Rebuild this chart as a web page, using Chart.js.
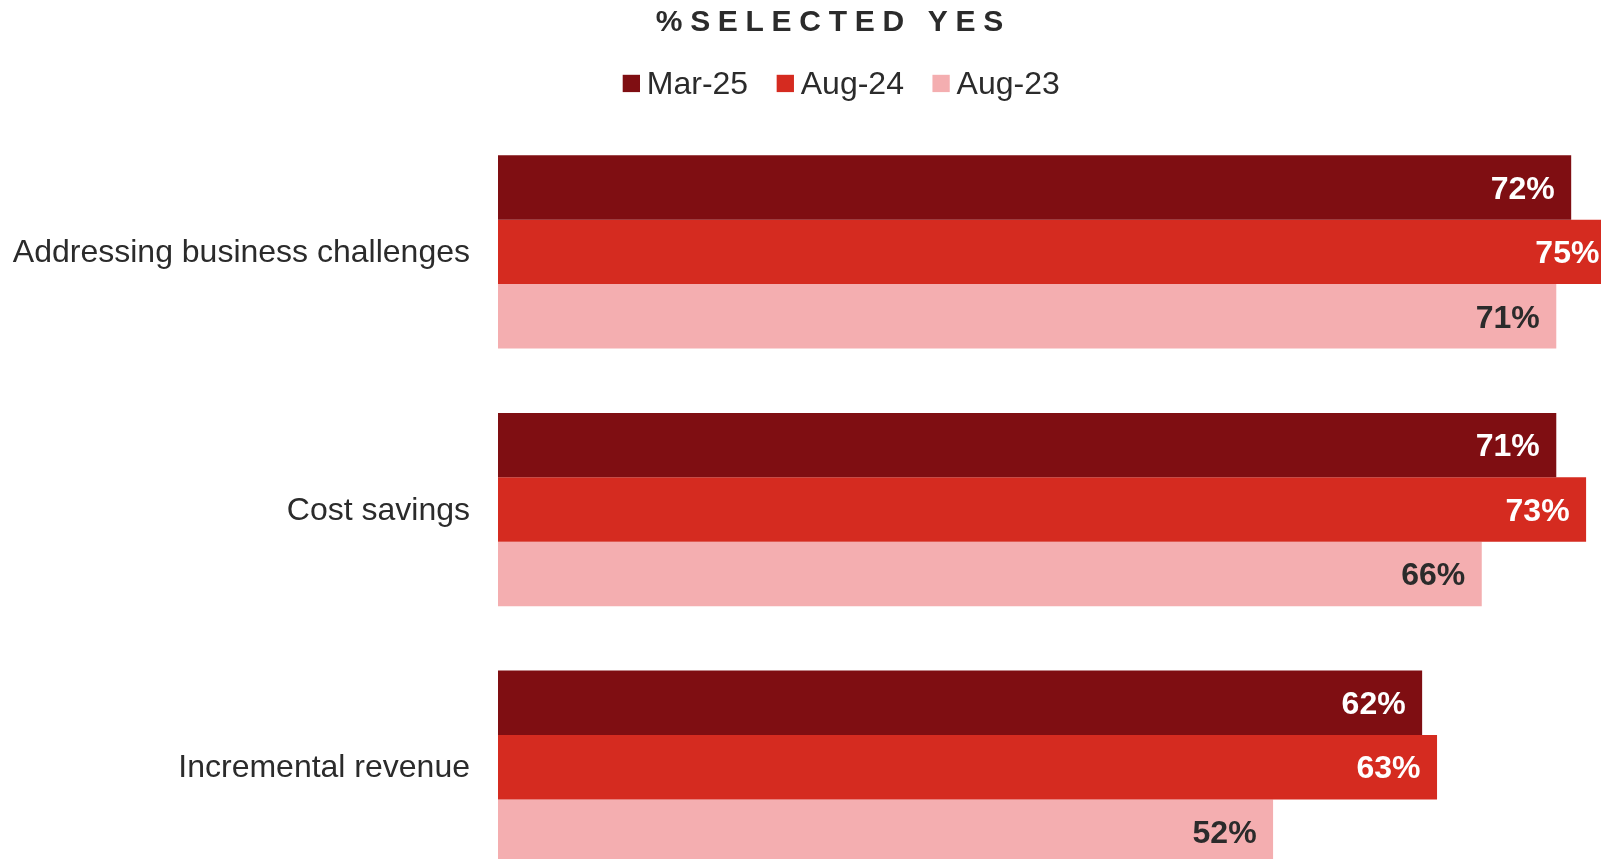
<!DOCTYPE html>
<html>
<head>
<meta charset="utf-8">
<script src="https://cdn.jsdelivr.net/npm/chart.js@4/dist/chart.umd.min.js"></script>
<style>
  html, body { margin: 0; padding: 0; background: #ffffff; overflow: hidden; }
  #wrap { position: relative; width: 1601px; height: 896px; }
  canvas { display: block; }
</style>
</head>
<body>
<div id="wrap"><canvas id="chart" width="1601" height="896"></canvas></div>
<script>
// Survey results: share of respondents answering "yes", by wave
const categories = ['Addressing business challenges', 'Cost savings', 'Incremental revenue'];
const seriesNames = ['Mar-25', 'Aug-24', 'Aug-23'];
const mar25 = [72, 71, 62];
const aug24 = [75, 73, 63];
const aug23 = [71, 66, 52];
const chartTitle = '%SELECTED YES';

const seriesColors = ['#7f0e12', '#d52b20', '#f4aeb0'];
const valueLabelColors = ['#ffffff', '#ffffff', '#2b2b2b'];
const FONT = '"Liberation Sans", Arial, Helvetica, sans-serif';

// Title and legend drawn above the plot area
const headerPlugin = {
  id: 'header',
  afterDraw(chart) {
    const ctx = chart.ctx;
    ctx.save();
    // title with wide letter spacing
    ctx.font = 'bold 30px ' + FONT;
    ctx.fillStyle = '#2b2b2b';
    ctx.textAlign = 'left';
    ctx.textBaseline = 'alphabetic';
    const ls = 7.7;
    ctx.letterSpacing = ls + 'px';
    const tw = ctx.measureText(chartTitle).width - ls;
    ctx.fillText(chartTitle, 829.5 - tw / 2, 31);
    ctx.letterSpacing = '0px';

    // legend row
    ctx.font = '32px ' + FONT;
    const box = 17.3, gapText = 8.3, gapItem = 30;
    let x = 622.7;
    chart.data.datasets.forEach(ds => {
      ctx.fillStyle = ds.backgroundColor;
      ctx.fillRect(x, 74.8, box, box);
      x += box + gapText;
      ctx.fillStyle = '#2b2b2b';
      ctx.fillText(ds.label, x - 1.5, 94);
      x += ctx.measureText(ds.label).width - 3 + gapItem;
    });
    ctx.restore();
  }
};

// Value labels inside the bar ends
const valueLabelPlugin = {
  id: 'valueLabels',
  afterDatasetsDraw(chart) {
    const ctx = chart.ctx;
    ctx.save();
    ctx.font = 'bold 32px ' + FONT;
    ctx.textAlign = 'right';
    ctx.textBaseline = 'middle';
    chart.data.datasets.forEach((ds, di) => {
      const meta = chart.getDatasetMeta(di);
      meta.data.forEach((bar, i) => {
        ctx.fillStyle = valueLabelColors[di];
        ctx.fillText(ds.data[i] + '%', bar.x - 16.5, bar.y + 2.5);
      });
    });
    ctx.restore();
  }
};

const seriesValues = [mar25, aug24, aug23];

new Chart(document.getElementById('chart'), {
  type: 'bar',
  data: {
    labels: categories,
    datasets: seriesNames.map((name, i) => ({
      label: name,
      data: seriesValues[i],
      backgroundColor: seriesColors[i],
      borderWidth: 0,
      categoryPercentage: 0.75,
      barPercentage: 1.0
    }))
  },
  options: {
    indexAxis: 'y',
    responsive: false,
    animation: false,
    devicePixelRatio: 1,
    layout: { padding: { top: 123, left: 0, right: 0, bottom: 0 } },
    plugins: {
      legend: { display: false },
      title: { display: false },
      tooltip: { enabled: false }
    },
    scales: {
      x: {
        display: false,
        min: 0,
        max: 74
      },
      y: {
        grid: { display: false, drawTicks: false },
        border: { display: false },
        ticks: {
          padding: 28,
          labelOffset: 1.5,
          color: '#2b2b2b',
          font: { family: FONT, size: 32 }
        },
        afterFit(scale) {
          scale.width = 498;
          // let the plot run to the lower edge of the canvas
          scale.paddingTop = 0;
          scale.paddingBottom = 0;
        }
      }
    }
  },
  plugins: [headerPlugin, valueLabelPlugin]
});
</script>
</body>
</html>
